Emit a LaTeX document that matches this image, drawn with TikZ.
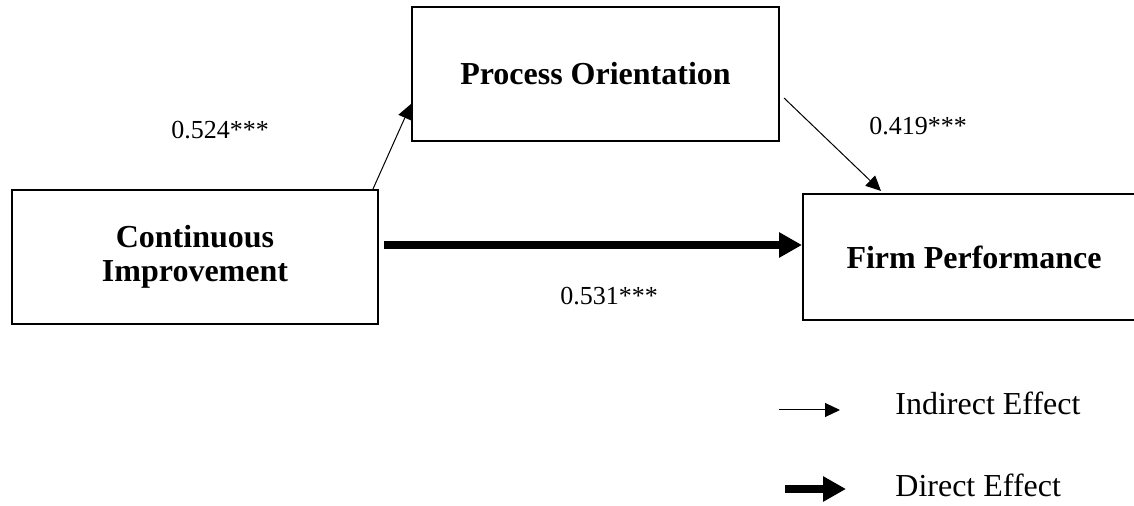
\documentclass[tikz,border=0pt]{standalone}
\usepackage{fontspec}
\setmainfont{Liberation Serif}
\usetikzlibrary{positioning,arrows.meta}

\begin{document}
\begin{tikzpicture}[
  x=0.5pt, y=-0.5pt,
  font=\fontsize{16}{19}\selectfont,
  box/.style={draw, line width=1pt, align=center, inner sep=0pt, font=\fontsize{16}{17}\selectfont\bfseries},
  coef/.style={font=\fontsize{13}{15}\selectfont},
  indarr/.style={-{Triangle[length=7.5pt,width=7pt]}, line width=0.5pt},
  dirarr/.style={-{Triangle[length=11.5pt,width=12pt]}, line width=4pt}]
\clip (0,0) rectangle (1134,506);
% constructs
\node[box, minimum width=183pt, minimum height=67pt] (ci) at (195,257) {Continuous\\Improvement};
\node[box, minimum width=183.5pt, minimum height=67pt] (po) at (595.5,74) {Process Orientation};
\node[box, minimum width=171pt, minimum height=63pt] (fp) at (974,257) {Firm Performance};
% paths
\draw[indarr] ([xshift=-3pt]ci.north east) -- ([yshift=-15pt]po.west);
\draw[indarr] ([xshift=2pt,yshift=-12pt]po.east) -- ([xshift=39.5pt,yshift=1pt]fp.north west);
\coordinate (dstart) at ([xshift=2.5pt,yshift=6pt]ci.east);
\draw[dirarr] (dstart) -- (fp.west |- dstart);
\node[coef] (a) at (220,130) {0.524***};
\node[coef] (b) at (918,126) {0.419***};
\node[coef] (c) at (609,296) {0.531***};
% legend
\coordinate (ia) at (779,410);
\coordinate (ib) at (840,410);
\coordinate (da) at (785,489);
\coordinate (db) at (846,489);
\draw[indarr] (ia) -- (ib);
\draw[dirarr] (da) -- (db);
\node[anchor=base west, inner sep=0pt] (indlbl) at (895,415) {Indirect Effect};
\node[anchor=base west, inner sep=0pt] (dirlbl) at (895,497) {Direct Effect};
\end{tikzpicture}
\end{document}
